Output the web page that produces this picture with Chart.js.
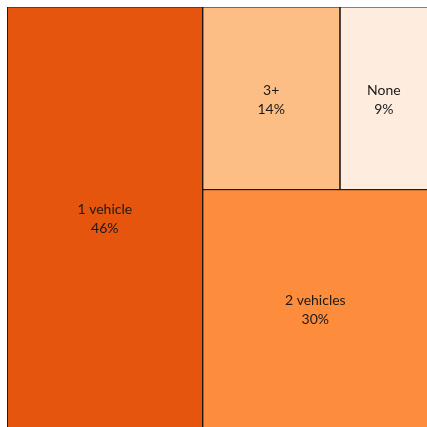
<!DOCTYPE html>
<html lang="en">
<head>
  <meta charset="UTF-8">
  <title>Vehicles per household - Treemap</title>
  <script src="https://cdn.jsdelivr.net/npm/chart.js"></script>
  <style>
    body { margin: 0; background: #fff; overflow: hidden; }
  </style>
</head>
<body>
  <canvas id="treemap" width="430" height="430"></canvas>

  <script>
    // Treemap data
    const categories = ['1 vehicle', '2 vehicles', '3+', 'None'];
    const shares = [46, 30, 14, 9];
    const colors = ['#e6550d', '#fd8d3c', '#fdbe85', '#feedde'];

    // binary split layout in a 0..1 x 0..1 box (y goes up)
    function partition(items, x0, y0, x1, y1, out) {
      if (items.length === 1) {
        out.push(Object.assign({}, items[0], { x0, y0, x1, y1 }));
        return;
      }
      const total = items.reduce((s, d) => s + d.value, 0);
      let k = 1, acc = 0, best = Infinity, bestSum = 0;
      for (let i = 0; i < items.length - 1; i++) {
        acc += items[i].value;
        const diff = Math.abs(acc - total / 2);
        if (diff < best) { best = diff; k = i + 1; bestSum = acc; }
      }
      const left = items.slice(0, k), right = items.slice(k);
      if (x1 - x0 >= y1 - y0) {
        const xk = x0 + (x1 - x0) * bestSum / total;
        partition(left, x0, y0, xk, y1, out);
        partition(right, xk, y0, x1, y1, out);
      } else {
        const yk = y0 + (y1 - y0) * bestSum / total;
        partition(left, x0, y0, x1, yk, out);
        partition(right, x0, yk, x1, y1, out);
      }
    }

    const items = categories.map((c, i) => ({ label: c, value: shares[i], color: colors[i] }));
    const cells = [];
    partition(items, 0, 0, 1, 1, cells);

    const datasets = cells.map(c => ({
      label: c.label,
      data: [
        { x: c.x0, y: c.y0 }, { x: c.x1, y: c.y0 },
        { x: c.x1, y: c.y1 }, { x: c.x0, y: c.y1 }, { x: c.x0, y: c.y0 }
      ],
      showLine: true,
      fill: 'shape',
      backgroundColor: c.color,
      borderColor: '#111',
      borderWidth: 1,
      pointRadius: 0,
      tension: 0
    }));

    // labels in the middle of each cell
    const cellLabels = {
      id: 'cellLabels',
      afterDatasetsDraw(chart) {
        const { ctx, scales } = chart;
        ctx.save();
        ctx.fillStyle = '#1a1a1a';
        ctx.font = '14px Lato';
        ctx.textAlign = 'center';
        ctx.textBaseline = 'middle';
        cells.forEach(c => {
          const cx = scales.x.getPixelForValue((c.x0 + c.x1) / 2);
          const cy = scales.y.getPixelForValue((c.y0 + c.y1) / 2);
          ctx.fillText(c.label, cx, cy - 8);
          ctx.fillText(c.value + '%', cx, cy + 11);
        });
        ctx.restore();
      }
    };

    new Chart(document.getElementById('treemap'), {
      type: 'scatter',
      data: { datasets },
      options: {
        responsive: false,
        animation: false,
        layout: { padding: { left: 7, top: 7, right: 2, bottom: 2 } },
        scales: {
          x: { type: 'linear', min: 0, max: 1, display: false },
          y: { type: 'linear', min: 0, max: 1, display: false }
        },
        plugins: {
          legend: { display: false },
          tooltip: { enabled: false }
        }
      },
      plugins: [cellLabels]
    });
  </script>
</body>
</html>
